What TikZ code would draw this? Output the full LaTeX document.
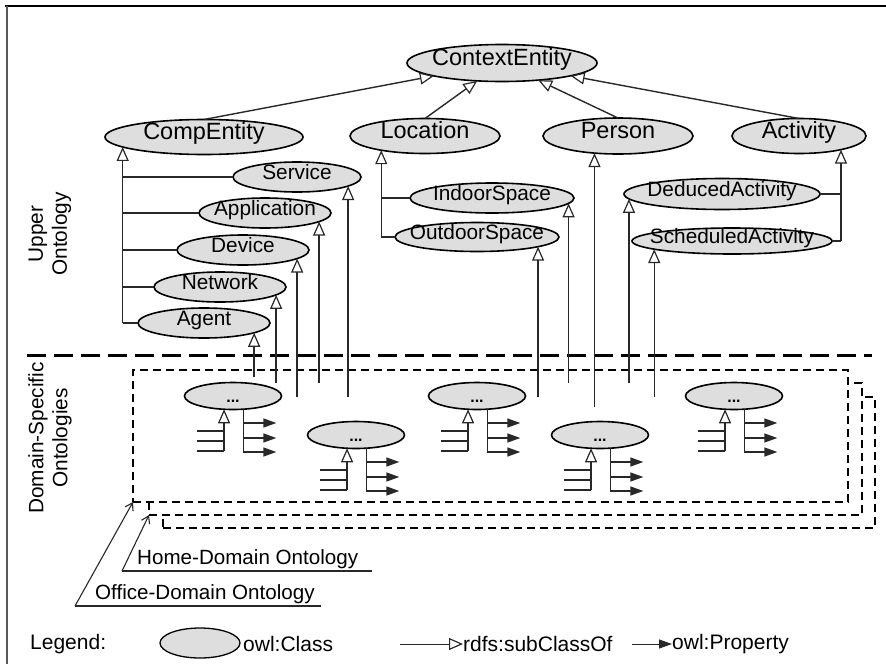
\documentclass[tikz,border=0pt]{standalone}
\usepackage{fontspec}
\setmainfont{Liberation Sans}
\usetikzlibrary{arrows.meta,calc,shapes.geometric}

\definecolor{clsfill}{RGB}{222,222,222}
\definecolor{linkgray}{RGB}{40,40,40}

% class label: zero-width box so the ellipse size is set by the style only
\newcommand\cl[1]{\makebox[0pt]{#1}}

\tikzset{
  cls/.style={shape=ellipse, draw=black, line width=1.6pt, fill=clsfill,
    inner sep=0pt, outer sep=0pt, text height=0.72em, text depth=0.21em,
    font=\fontsize{20.8}{24}\selectfont},
  topcls/.style={cls, font=\fontsize{23.5}{28}\selectfont},
  dom/.style={cls, minimum width=97pt, minimum height=27pt,
    font=\fontsize{16}{18}\selectfont\bfseries},
  link/.style={draw=linkgray, line width=1.4pt},
  sub/.style={link, -{Triangle[open, length=14pt, width=12pt, line width=1.2pt]}},
  subrev/.style={link, {Triangle[open, length=14pt, width=12pt, line width=1.2pt]}-},
  prop/.style={link, -{Triangle[length=13pt, width=9pt]}},
  layer/.style={draw=black, line width=3pt, dash pattern=on 19pt off 8pt},
  dombox/.style={rectangle, draw=black, line width=2.4pt, dash pattern=on 8pt off 5pt,
    fill=white, inner sep=0pt, outer sep=0pt},
  ptr/.style={draw=linkgray, line width=1.1pt, -{Straight Barb[length=7pt, width=9pt]}},
  side/.style={rotate=90, align=center, font=\fontsize{20.8}{24}\selectfont},
  lab/.style={inner sep=0pt, font=\fontsize{20.6}{24}\selectfont},
  leg/.style={inner sep=0pt, font=\fontsize{21}{24}\selectfont},
}

% subclass and property fan below a domain class
\newcommand\domfan[1]{%
  \draw[subrev] (#1.-124.1) -- ++(0,41.7) coordinate (#1-sb);
  \foreach \dy in {0,10,20} \draw[link] ($(#1-sb)+(0,-\dy)$) -- ++(-27,0);
  \draw[link] (#1.-52.9) -- ++(0,42.8) coordinate (#1-pb);
  \foreach \dy in {0,14,29} \draw[prop] ($(#1-pb)+(0,-\dy)$) -- ++(33,0);
}

\begin{document}
\begin{tikzpicture}[x=1pt, y=-1pt]
\useasboundingbox (0,0) rectangle (886,664);

% frame
\draw[line width=2pt] (5,6) -- (886,6);
\draw[line width=1.5pt, black!65] (7,6) -- (7,664);

% upper ontology classes
\node[topcls, minimum width=190pt, minimum height=37pt] (ctx) at (502,63) {\cl{ContextEntity}};
\node[topcls, minimum width=198pt, minimum height=35pt] (comp) at (204,137) {\cl{CompEntity}};
\node[topcls, minimum width=150pt, minimum height=35pt] (loc) at (425,136) {\cl{Location}};
\node[topcls, minimum width=150pt, minimum height=36pt] (person) at (618,136) {\cl{Person}};
\node[topcls, minimum width=134pt, minimum height=35pt] (activity) at (799,136) {\cl{Activity}};

\node[cls, minimum width=128pt, minimum height=30pt] (service) at (297,177) {\cl{Service}};
\node[cls, minimum width=132pt, minimum height=30pt] (application) at (265,213) {\cl{Application}};
\node[cls, minimum width=132pt, minimum height=30pt] (device) at (243,250) {\cl{Device}};
\node[cls, minimum width=132pt, minimum height=30pt] (network) at (220,287) {\cl{Network}};
\node[cls, minimum width=132pt, minimum height=30pt] (agent) at (204,323) {\cl{Agent}};

\node[cls, minimum width=164pt, minimum height=30pt] (indoor) at (492,198) {\cl{IndoorSpace}};
\node[cls, minimum width=164pt, minimum height=29pt] (outdoor) at (477,237) {\cl{OutdoorSpace}};
\node[cls, minimum width=196pt, minimum height=31pt] (deduced) at (722,194) {\cl{DeducedActivity}};
\node[cls, minimum width=200pt, minimum height=26pt] (scheduled) at (732,241) {\cl{ScheduledActivity}};

% side titles
\node[side] (upper) at (50,234) {Upper\\Ontology};
\node[side] (domain) at (50,438) {Domain-Specific\\Ontologies};

% layer separator
\coordinate (sepL) at (27,355);
\coordinate (sepR) at (872,355);
\draw[layer] (sepL) -- (sepR);

% domain ontology boxes (back to front)
\node[dombox, minimum width=712pt, minimum height=131pt] (b3) at (519,462.5) {};
\node[dombox, minimum width=713pt, minimum height=132pt] (b2) at (505.5,449) {};
\node[dombox, minimum width=715pt, minimum height=132pt] (b1) at (490.5,436) {};

% domain classes
\node[dom] (d1) at (233,396) {\cl{\raisebox{-4pt}{...}}};
\node[dom] (d2) at (356,435) {\cl{\raisebox{-4pt}{...}}};
\node[dom] (d3) at (477,396) {\cl{\raisebox{-4pt}{...}}};
\node[dom] (d4) at (600,435) {\cl{\raisebox{-4pt}{...}}};
\node[dom] (d5) at (734,396) {\cl{\raisebox{-4pt}{...}}};
\domfan{d1}
\domfan{d2}
\domfan{d3}
\domfan{d4}
\domfan{d5}

% top-level subclass links
\draw[sub] (comp.north) -- (ctx);
\draw[sub] (loc.north) -- (ctx);
\draw[sub] (person.north) -- (ctx);
\draw[sub] (activity.north) -- (ctx);

% CompEntity tree
\coordinate (compfoot) at (comp.187.9 |- agent.west);
\draw[sub] (compfoot) -- (comp.187.9);
\foreach \n in {service,application,device,network,agent}
  \draw[link] (comp.187.9 |- \n.west) -- (\n.west);

% Location tree
\coordinate (locfoot) at (loc.198.4 |- outdoor.west);
\draw[sub] (locfoot) -- (loc.198.4);
\foreach \n in {indoor,outdoor}
  \draw[link] (loc.198.4 |- \n.west) -- (\n.west);

% Activity tree
\coordinate (actfoot) at (activity.-18.5 |- scheduled.east);
\draw[sub] (actfoot) -- (activity.-18.5);
\foreach \n in {deduced,scheduled}
  \draw[link] (activity.-18.5 |- \n.east) -- (\n.east);

% links from the domain layer up to the upper classes
\coordinate (yA) at (0,377);
\coordinate (yB) at (0,383);
\coordinate (yC) at (0,397);
\coordinate (yD) at (0,407);
\draw[sub] (agent.-11.6 |- yA) -- (agent.-11.6);
\draw[sub] (network.-8.1 |- yB) -- (network.-8.1);
\draw[sub] (device.-9.07 |- yC) -- (device.-9.07);
\draw[sub] (application.-9.07 |- yB) -- (application.-9.07);
\draw[sub] (service.-10.6 |- yC) -- (service.-10.6);
\draw[sub] (outdoor.-9.0 |- yC) -- (outdoor.-9.0);
\draw[sub] (indoor.-4.6 |- yB) -- (indoor.-4.6);
\draw[sub] (person.216 |- yD) -- (person.216);
\draw[sub] (deduced.183.0 |- yB) -- (deduced.183.0);
\draw[sub] (scheduled.186.15 |- yC) -- (scheduled.186.15);

% domain ontology captions
\node[lab, anchor=base west] (home) at (137,564) {Home-Domain Ontology};
\coordinate (homefoot) at (122,571);
\draw[link, line width=1.1pt] ($(homefoot -| home.east)+(14,0)$) -- (homefoot);
\draw[ptr] (homefoot) -- (b2.south west);
\node[lab, anchor=base west] (office) at (95,599) {Office-Domain Ontology};
\coordinate (officefoot) at (75,606);
\draw[link, line width=1.1pt] ($(officefoot -| office.east)+(6,0)$) -- (officefoot);
\draw[ptr] (officefoot) -- (b1.south west);

% legend
\node[leg, anchor=west] (legend) at (30,644) {Legend:};
\node[cls, minimum width=80pt, minimum height=30pt, line width=1.3pt] (lgcls) at (200,643) {};
\node[leg, anchor=west] (lgclstext) at (243,644) {owl:Class};
\node[leg, anchor=west] (lgsub) at (463,644) {rdfs:subClassOf};
\coordinate (lgsubA) at (400,644);
\draw[sub, line width=1pt] (lgsubA) -- (lgsub.west);
\node[leg, anchor=west] (lgprop) at (672,644) {owl:Property};
\coordinate (lgpropA) at (632,644);
\draw[prop, line width=1pt] (lgpropA) -- (lgprop.west);
\end{tikzpicture}
\end{document}
